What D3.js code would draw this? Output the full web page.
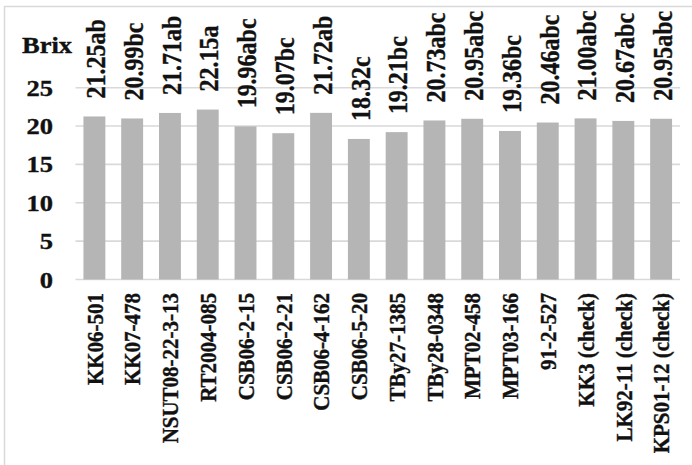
<!DOCTYPE html>
<html><head><meta charset="utf-8">
<script src="https://cdn.jsdelivr.net/npm/d3@7"></script>
<style>html,body{margin:0;padding:0;background:#fff;}svg{display:block;} text{font-family:"Liberation Serif","Times New Roman",serif;font-weight:bold;stroke:#111;stroke-width:0.35px;}</style>
</head><body><div id="chart"></div>
<script>
const categories = ["KK06-501","KK07-478","NSUT08-22-3-13","RT2004-085","CSB06-2-15","CSB06-2-21","CSB06-4-162","CSB06-5-20","TBy27-1385","TBy28-0348","MPT02-458","MPT03-166","91-2-527","KK3 (check)","LK92-11 (check)","KPS01-12 (check)"];
const values = [21.25,20.99,21.71,22.15,19.96,19.07,21.72,18.32,19.21,20.73,20.95,19.36,20.46,21.00,20.67,20.95];
const letters = ["ab","bc","ab","a","abc","bc","ab","c","bc","abc","abc","bc","abc","abc","abc","abc"];
const yTicks = [0,5,10,15,20,25];
const yTitle = "Brix";

const W = 692, H = 465;
const SX = 1.12;
const svg = d3.select("#chart").append("svg").attr("width", W).attr("height", H);

svg.append("rect").attr("x",4.5).attr("y",6.5).attr("width",W+10).attr("height",H+10)
  .attr("fill","#fff").attr("stroke","#d9d9d9").attr("stroke-width",1.5);

const x = d3.scaleBand().domain(categories).range([75.5,680]).paddingInner(0.42).paddingOuter(0.21);
const y = d3.scaleLinear().domain([0,25]).range([279.5,87.7]);

// gridlines
svg.append("g").selectAll("line").data(yTicks).join("line")
  .attr("x1",75.5).attr("x2",680)
  .attr("y1",d=>y(d)).attr("y2",d=>y(d))
  .attr("stroke","#d9d9d9").attr("stroke-width",1.6);

// bars
svg.append("g").selectAll("rect").data(values).join("rect")
  .attr("x",(d,i)=>x(categories[i]))
  .attr("width",x.bandwidth())
  .attr("y",d=>y(d))
  .attr("height",d=>y(0)-y(d))
  .attr("fill","#b5b5b5");

// y tick labels
svg.append("g").selectAll("text").data(yTicks).join("text")
  .attr("transform",d=>`translate(53,${y(d)}) scale(${SX},1)`)
  .attr("text-anchor","end").attr("dy","0.34em")
  .style("font-size","23.7px")
  .attr("fill","#111").text(d=>d);

// y title
svg.append("text").attr("transform",`translate(22,52.5) scale(${SX},1)`)
  .style("font-size","23.7px")
  .attr("fill","#111").text(yTitle);

// value labels
svg.append("g").selectAll("text").data(values).join("text")
  .attr("transform",(d,i)=>`translate(${x(categories[i])+x.bandwidth()/2},${y(d)-18}) scale(${SX},1) rotate(-90)`)
  .attr("text-anchor","start").attr("dy","0.4em")
  .style("font-size","24px")
  .attr("fill","#111").text((d,i)=>d.toFixed(2)+letters[i]);

// category labels
svg.append("g").selectAll("text").data(categories).join("text")
  .attr("transform",d=>`translate(${x(d)+x.bandwidth()/2},293) scale(${SX*0.97},1) rotate(-90)`)
  .attr("text-anchor","end").attr("dy","0.36em")
  .style("font-size","21px")
  .attr("fill","#111").text(d=>d);
</script></body></html>
